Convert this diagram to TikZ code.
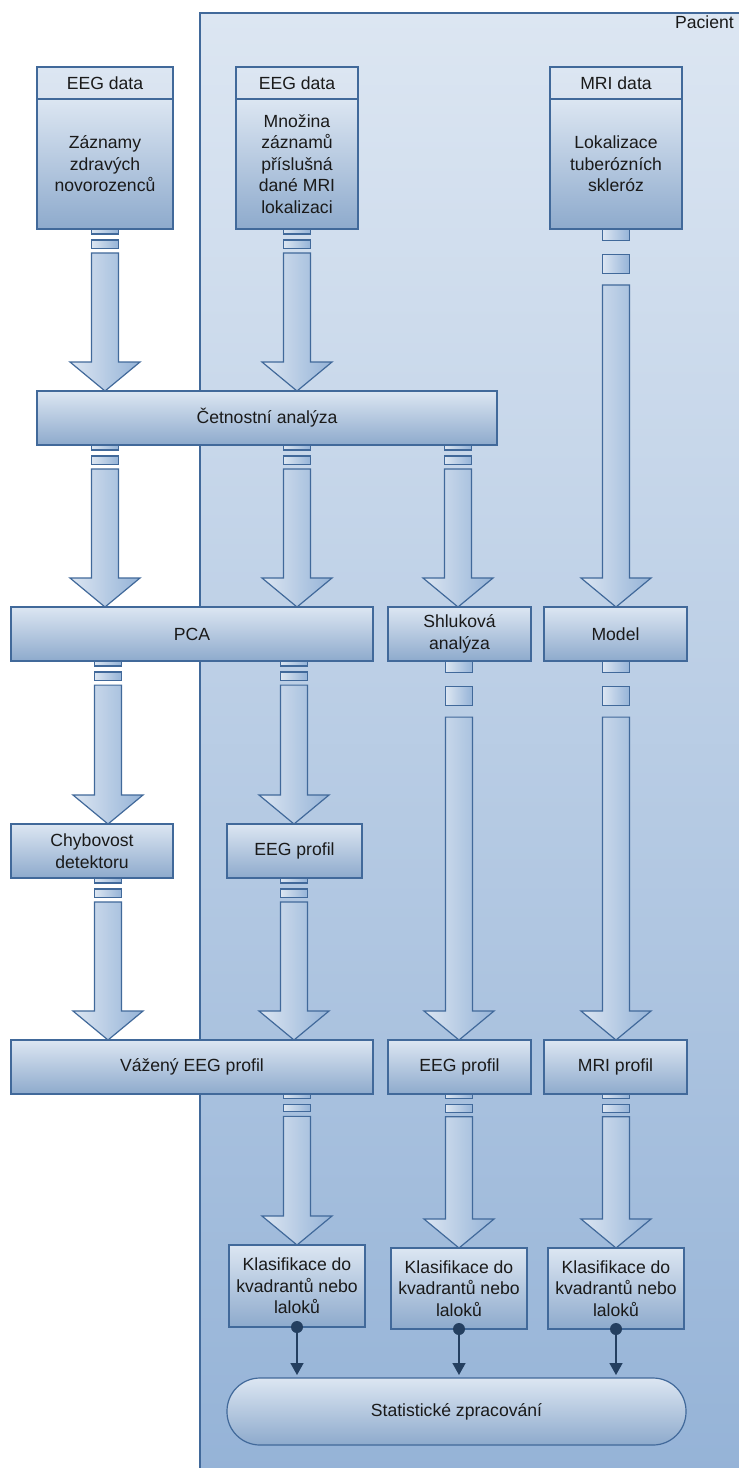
\documentclass[tikz,border=0pt]{standalone}
\usepackage{fontspec}
\setmainfont{Liberation Sans}
\usetikzlibrary{arrows.meta,calc}
\definecolor{bord}{HTML}{41699A}
\definecolor{lt}{HTML}{DCE6F2}
\definecolor{dk}{HTML}{95B3D7}
\definecolor{hd}{HTML}{D9E3F0}
\definecolor{navy}{HTML}{243F60}
\definecolor{txt}{HTML}{1A1A1A}
\tikzset{
  box/.style={draw=bord, line width=1.2pt, top color=lt, bottom color=dk!95!black, inner sep=0pt, outer sep=0pt, align=center, anchor=north west},
  headbox/.style={draw=bord, line width=1.2pt, top color=lt, bottom color=hd, inner sep=0pt, outer sep=0pt, align=center, anchor=south west},
  arrowpart/.style={draw=bord, line width=1.2pt, left color=lt, right color=dk},
  container/.style={draw=bord, line width=1.2pt, top color=lt, bottom color=dk},
  dotline/.style={draw=navy, line width=1.5pt, -{Triangle[width=13pt,length=12pt]}, shorten >=3pt},
}
\newcommand\barrow[3]{%
 \path let \p1=(#2.south), \p2=(#3.north), \n1={\y1-\y2} in
  coordinate (ba1) at ({(#1-13.5)*1pt},\y1)
  coordinate (ba2) at ({(#1+13.5)*1pt},{\y1-0.031*\n1})
  coordinate (ba3) at ({(#1-13.5)*1pt},{\y1-0.068*\n1})
  coordinate (ba4) at ({(#1+13.5)*1pt},{\y1-0.118*\n1})
  coordinate (ba5) at ({(#1-13.5)*1pt},{\y1-0.148*\n1})
  coordinate (ba6) at ({(#1+13.5)*1pt},{\y2+29pt})
  coordinate (ba7) at ({#1*1pt},\y2);
 \path[arrowpart] (ba1) rectangle (ba2);
 \path[arrowpart] (ba3) rectangle (ba4);
 \path[arrowpart] (ba5) -- (ba5 -| ba6) -- (ba6) -- ++(21.5pt,0pt) -- (ba7) -- ++(-35pt,29pt) -- (ba5 |- ba6) -- cycle;
}
\begin{document}
\begin{tikzpicture}[x=1pt, y=-1pt, font=\fontsize{17.6}{21.5}\selectfont, text=txt]
\useasboundingbox (0,0) rectangle (739,1468);
\fill[white] (0,0) rectangle (739,1468);
\begin{scope}
\clip (0,0) rectangle (739,1468);
\path[container] (200,13) rectangle (745,1475);
\end{scope}
\node[anchor=north east, inner sep=0pt] (pac) at (734,16) {Pacient};

% data boxes
\node[box, minimum width=136pt, minimum height=130pt] (eeg1b) at (37,99) {Záznamy\\zdravých\\novorozenců};
\node[headbox, minimum width=136pt, minimum height=32pt] (eeg1h) at (eeg1b.north west) {EEG data};
\node[box, minimum width=122pt, minimum height=130pt] (eeg2b) at (236,99) {Množina\\záznamů\\příslušná\\dané MRI\\lokalizaci};
\node[headbox, minimum width=122pt, minimum height=32pt] (eeg2h) at (eeg2b.north west) {EEG data};
\node[box, minimum width=132pt, minimum height=130pt] (mrib) at (550,99) {Lokalizace\\tuberózních\\skleróz};
\node[headbox, minimum width=132pt, minimum height=32pt] (mrih) at (mrib.north west) {MRI data};

% process boxes
\node[box, minimum width=460pt, minimum height=54pt] (cet) at (37,391) {Četnostní analýza};
\node[box, minimum width=362pt, minimum height=54pt] (pca) at (11,607) {PCA};
\node[box, minimum width=143pt, minimum height=54pt] (shl) at (388,607) {Shluková\\analýza};
\node[box, minimum width=143pt, minimum height=54pt] (model) at (544,607) {Model};
\node[box, minimum width=162pt, minimum height=54pt] (chyb) at (11,824) {Chybovost\\detektoru};
\node[box, minimum width=135pt, minimum height=54pt] (eegp1) at (227,824) {EEG profil};
\node[box, minimum width=362pt, minimum height=54pt] (vaz) at (11,1040) {Vážený EEG profil};
\node[box, minimum width=143pt, minimum height=54pt] (eegp2) at (388,1040) {EEG profil};
\node[box, minimum width=143pt, minimum height=54pt] (mrip) at (544,1040) {MRI profil};
\node[box, minimum width=136pt, minimum height=82pt] (k1) at (229,1245) {Klasifikace do\\kvadrantů nebo\\laloků};
\node[box, minimum width=136pt, minimum height=81pt] (k2) at (391,1248) {Klasifikace do\\kvadrantů nebo\\laloků};
\node[box, minimum width=136pt, minimum height=81pt] (k3) at (548,1248) {Klasifikace do\\kvadrantů nebo\\laloků};
\node[box, rounded corners=33pt, minimum width=459pt, minimum height=67pt] (stat) at (227,1378) {Statistické zpracování};

% block arrows
\barrow{105}{eeg1b}{cet}
\barrow{297}{eeg2b}{cet}
\barrow{616}{mrib}{model}
\barrow{105}{cet}{pca}
\barrow{297}{cet}{pca}
\barrow{458}{cet}{shl}
\barrow{108}{pca}{chyb}
\barrow{294}{pca}{eegp1}
\barrow{459}{shl}{eegp2}
\barrow{616}{model}{mrip}
\barrow{108}{chyb}{vaz}
\barrow{294}{eegp1}{vaz}
\barrow{297}{vaz}{k1}
\barrow{459}{eegp2}{k2}
\barrow{616}{mrip}{k3}

% connectors to statistics
\foreach \k in {k1,k2,k3}{
  \draw[dotline] (\k.south) -- (\k.south |- stat.north);
  \fill[navy] (\k.south) circle (6pt);
}
\end{tikzpicture}
\end{document}
